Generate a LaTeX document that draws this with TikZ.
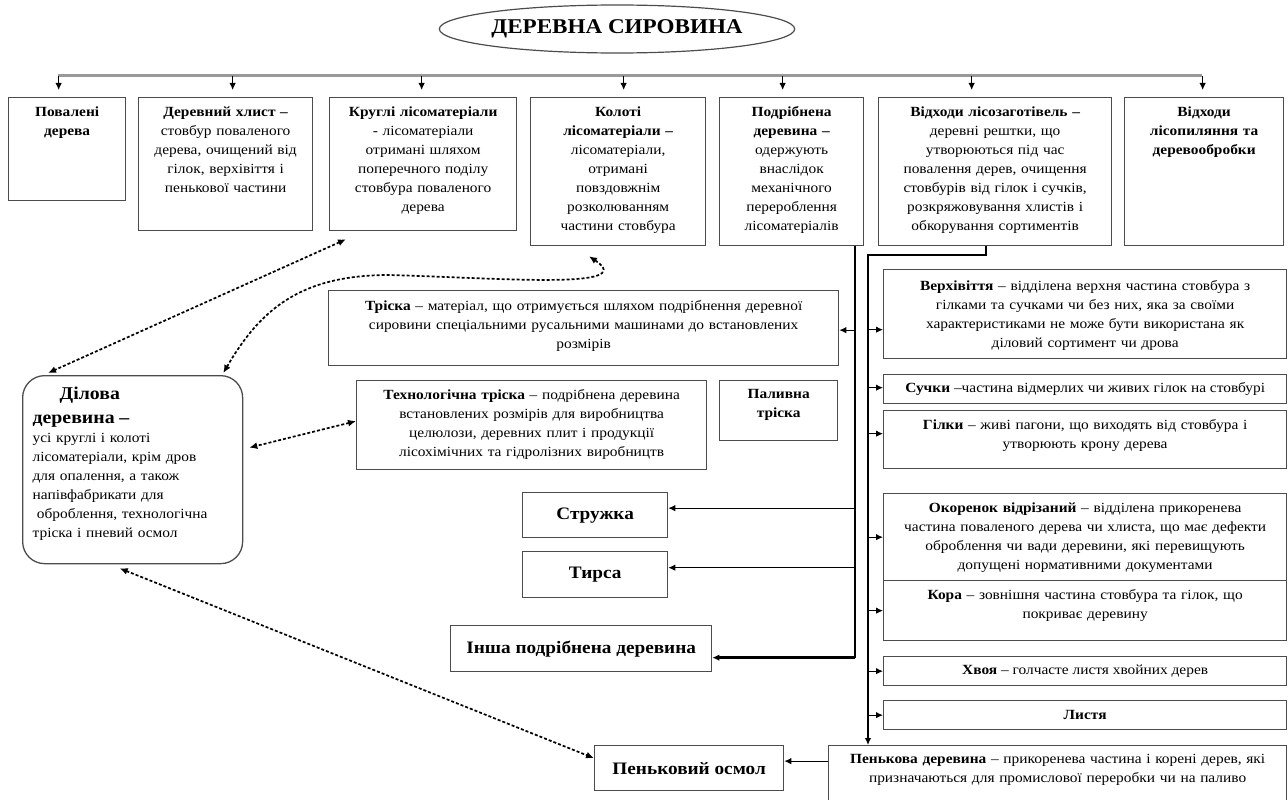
\documentclass[tikz,border=0pt]{standalone}
\usepackage{fontspec}
\setmainfont{Liberation Serif}[FakeStretch=1.1]
\usetikzlibrary{shapes.geometric,arrows.meta}

\newcommand{\bodyfont}{\fontsize{14}{19}\selectfont}
\newcommand{\itemfont}{\fontsize{17.5}{21}\selectfont\bfseries}
\newcommand{\dilfont}{\fontsize{18}{23}\selectfont\bfseries}

\begin{document}
\begin{tikzpicture}[x=1pt, y=-1pt, thick,
	box/.style={rectangle, draw=black!70, line width=1.3pt, anchor=north west, inner sep=0pt, font=\bodyfont},
	item/.style={box, font=\itemfont},
	txt/.style={anchor=north, align=center, font=\bodyfont, inner sep=0pt, yshift=-9pt},
	arr/.style={-{Latex[length=7pt, width=6.5pt]}, line width=1.1pt},
	spine/.style={line width=1.3pt},
	busline/.style={draw=black!40, line width=3pt},
	link/.style={{Latex[length=8pt, width=7pt]}-{Latex[length=8pt, width=7pt]}, dash pattern=on 3pt off 2pt, line width=1.7pt}]
	\useasboundingbox (0,0) rectangle (1288,800);

	\node[ellipse, draw=black!70, line width=1.2pt, minimum width=349, minimum height=48, inner sep=0pt, font=\fontsize{21}{24}\selectfont\bfseries] (title) at (617,29) {ДЕРЕВНА СИРОВИНА};

	% top row
	\node[box, minimum width=117, minimum height=103, label={[txt, text width=105]north:{\textbf{Повалені}\\\textbf{дерева}}}] (povaleni) at (8,97) {};
	\node[box, minimum width=174, minimum height=133, label={[txt, text width=165]north:{\textbf{Деревний хлист –}\\стовбур поваленого\\дерева, очищений від\\гілок, верхівіття і\\пенькової частини}}] (khlyst) at (138,97) {};
	\node[box, minimum width=187, minimum height=133, label={[txt, text width=180]north:{\textbf{Круглі лісоматеріали}\\- лісоматеріали\\отримані шляхом\\поперечного поділу\\стовбура поваленого\\дерева}}] (krugli) at (329,97) {};
	\node[box, minimum width=175, minimum height=148, label={[txt, text width=168]north:{\textbf{Колоті}\\\textbf{лісоматеріали –}\\лісоматеріали,\\отримані\\повздовжнім\\розколюванням\\частини стовбура}}] (koloti) at (530,97) {};
	\node[box, minimum width=144, minimum height=148, label={[txt, text width=138]north:{\textbf{Подрібнена}\\\textbf{деревина –}\\одержують\\внаслідок\\механічного\\перероблення\\лісоматеріалів}}] (podribnena) at (719,97) {};
	\node[box, minimum width=233, minimum height=148, label={[txt, text width=226]north:{\textbf{Відходи лісозаготівель –}\\деревні рештки, що\\утворюються під час\\повалення дерев, очищення\\стовбурів від гілок і сучків,\\розкряжовування хлистів і\\обкорування сортиментів}}] (vidkhody) at (878,97) {};
	\node[box, minimum width=159, minimum height=148, label={[txt, text width=150]north:{\textbf{Відходи}\\\textbf{лісопиляння та}\\\textbf{деревообробки}}}] (lisopyl) at (1124,97) {};

	% middle
	\node[box, minimum width=510, minimum height=75, label={[txt, text width=495, yshift=-1pt]north:{\textbf{Тріска} – матеріал, що отримується шляхом подрібнення деревної\\сировини спеціальними русальними машинами до встановлених\\розмірів}}] (triska) at (328,290) {};
	\node[box, minimum width=350, minimum height=89, label={[txt, text width=340]north:{\textbf{Технологічна тріска} – подрібнена деревина\\встановлених розмірів для виробництва\\целюлози, деревних плит і продукції\\лісохімічних та гідролізних виробництв}}] (tekhn) at (356,380) {};
	\node[box, minimum width=118, minimum height=60, label={[txt, text width=110]north:{\textbf{Паливна}\\\textbf{тріска}}}] (palyvna) at (719,380) {};
	\node[box, rounded corners=22pt, minimum width=220, minimum height=188, label={[txt, align=left, text width=200, yshift=-3pt]north:{{\dilfont\hspace*{1.5em}Ділова}\\[5pt]{\dilfont деревина –}\\усі круглі і колоті\\лісоматеріали, крім дров\\для опалення, а також\\напівфабрикати для\\\hspace*{0.3em}оброблення, технологічна\\тріска і пневий осмол}}] (dilova) at (22,375) {};

	\node[item, minimum width=145, minimum height=45] (struzhka) at (522,492) {Стружка};
	\node[item, minimum width=145, minimum height=46] (tyrsa) at (522,551) {Тирса};
	\node[item, minimum width=261, minimum height=46] (insha) at (450,625) {Інша подрібнена деревина};
	\node[item, minimum width=189, minimum height=45] (osmol) at (594,745) {Пеньковий осмол};

	% right column
	\node[box, minimum width=403, minimum height=89, label={[txt, text width=395, yshift=-2pt]north:{\textbf{Верхівіття} – відділена верхня частина стовбура з\\гілками та сучками чи без них, яка за своїми\\характеристиками не може бути використана як\\діловий сортимент чи дрова}}] (verkh) at (883,269) {};
	\node[box, minimum width=403, minimum height=29] (suchky) at (883,374) {\textbf{Сучки} –частина відмерлих чи живих гілок на стовбурі};
	\node[box, minimum width=403, minimum height=58, label={[txt, text width=395]north:{\textbf{Гілки} – живі пагони, що виходять від стовбура і\\утворюють крону дерева}}] (hilky) at (883,410) {};
	\node[box, minimum width=403, minimum height=87, label={[txt, text width=395]north:{\textbf{Окоренок відрізаний} – відділена прикоренева\\частина поваленого дерева чи хлиста, що має дефекти\\оброблення чи вади деревини, які перевищують\\допущені нормативними документами}}] (okorenok) at (883,493) {};
	\node[box, minimum width=403, minimum height=60, label={[txt, text width=395]north:{\textbf{Кора} – зовнішня частина стовбура та гілок, що\\покриває деревину}}] (kora) at (883,580) {};
	\node[box, minimum width=403, minimum height=29] (khvoya) at (883,656) {\textbf{Хвоя} – голчасте листя хвойних дерев};
	\node[box, minimum width=403, minimum height=29] (lystya) at (883,700) {\textbf{Листя}};
	\node[box, minimum width=458, minimum height=62, label={[txt, text width=450]north:{\textbf{Пенькова деревина} – прикоренева частина і корені дерев, які\\призначаються для промислової переробки чи на паливо}}] (penkova) at (828,745) {};

	% bus from the title
	\coordinate (bus) at (58,76);
	\coordinate (busend) at (1202,76);
	\draw[busline] (bus) -- (busend);
	\foreach \n/\s in {povaleni/-8.5, khlyst/7, krugli/-1.5, koloti/5.5, podribnena/-9, vidkhody/-23.5, lisopyl/-1.5}{
		\coordinate (tip) at ([xshift=\s pt, yshift=7pt]\n.north);
		\draw[arr] (tip |- bus) -- (tip);
	}

	% spine from Подрібнена деревина
	\coordinate (spineA) at (855,0);
	\coordinate (ia) at ([yshift=-9pt]insha.east);
	\draw[spine] (podribnena.south -| spineA) -- (spineA |- ia);
	\draw[arr, line width=2.4pt] (spineA |- ia) -- (ia);
	\foreach \n/\s in {triska/-2, struzhka/7, tyrsa/7}{
		\coordinate (t) at ([yshift=\s pt]\n.east);
		\draw[arr] (spineA |- t) -- (t);
	}

	% spine from Відходи лісозаготівель
	\coordinate (spineB) at (868,0);
	\coordinate (bend) at (986,255);
	\draw[arr, line width=2pt] (vidkhody.south -| bend) -- (bend) -| (spineB |- penkova.north);
	\foreach \n/\s in {verkh/-15.5, suchky/1.5, hilky/6, okorenok/0, kora/0, khvoya/0, lystya/0}{
		\coordinate (t) at ([yshift=\s pt]\n.west);
		\draw[arr] (spineB |- t) -- (t);
	}
	\coordinate (o) at ([yshift=7pt]osmol.east);
	\draw[arr] (penkova.west |- o) -- (o);

	% dashed links to Ділова деревина
	\draw[link] ([xshift=17pt, yshift=-8pt]krugli.south west) -- ([xshift=26pt, yshift=2pt]dilova.north west);
	\draw[link] ([xshift=-20pt, yshift=2pt]dilova.north east) .. controls (260,310) and (300,275) .. (389,275) .. controls (500,278) and (640,290) .. ([xshift=59pt, yshift=-10pt]koloti.south west);
	\draw[link] ([yshift=4pt]tekhn.west) -- ([xshift=6pt, yshift=22pt]dilova.east);
	\draw[link] ([xshift=-13pt, yshift=-4pt]dilova.south) -- ([yshift=10pt]osmol.west);
\end{tikzpicture}
\end{document}
